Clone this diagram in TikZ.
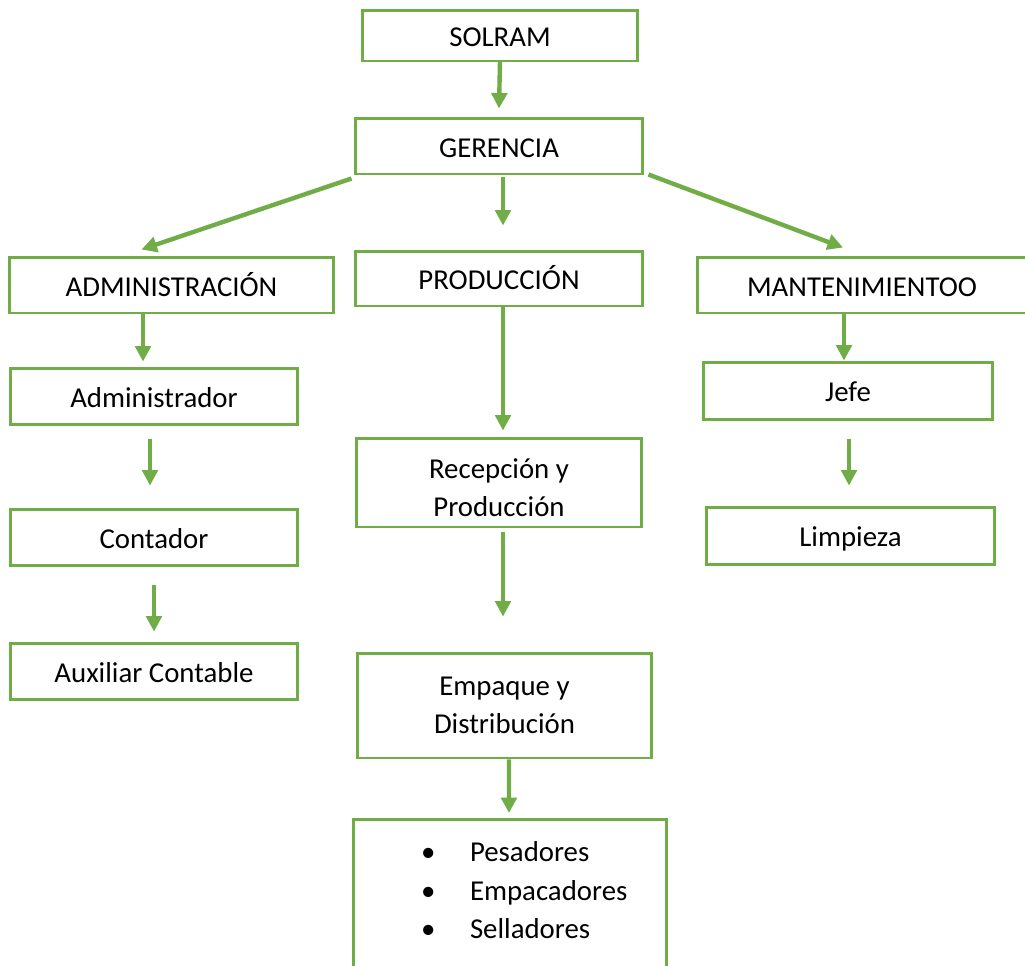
\documentclass[tikz,border=0pt]{standalone}
\usepackage{fontspec}
\setmainfont{Carlito}
\usetikzlibrary{arrows.meta,calc}
\definecolor{verde}{HTML}{70AD47}
\newcommand{\vineta}[1]{\makebox[2.34cm][l]{\hspace{1.36cm}\textbullet}#1}

\begin{document}
\begin{tikzpicture}[x=0.02cm,y=-0.02cm,
    caja/.style={draw=verde, line width=1.7pt, inner sep=2pt, align=center,
        font=\fontsize{16.4}{22}\selectfont},
    linea/.style={caja, text height=15.6pt, text depth=2.8pt},
    flecha/.style={draw=verde, line width=2.5pt, -{Triangle[length=8.8pt,width=8.8pt]}}]
    \useasboundingbox (0,0) rectangle (1025,965);

    % Direccion
    \node[linea, minimum width=5.52cm, minimum height=1.02cm] (solram) at (500,35.5) {SOLRAM};
    \node[linea, minimum width=5.76cm, minimum height=1.12cm] (gerencia) at (499,146) {GERENCIA};

    % Areas
    \node[linea, minimum width=6.5cm, minimum height=1.12cm] (admin) at (171.5,285) {ADMINISTRACIÓN};
    \node[linea, minimum width=5.76cm, minimum height=1.1cm] (prod) at (499,278.5) {PRODUCCIÓN};
    \node[linea, minimum width=6.6cm, minimum height=1.12cm] (mant) at (862,285) {MANTENIMIENTOO};

    % Administracion
    \node[linea, minimum width=5.76cm, minimum height=1.12cm] (administrador) at (154,396) {Administrador};
    \node[linea, minimum width=5.76cm, minimum height=1.12cm] (contador) at (154,537) {Contador};
    \node[linea, minimum width=5.76cm, minimum height=1.12cm] (auxiliar) at (154,671) {Auxiliar Contable};

    % Produccion
    \node[caja, minimum width=5.72cm, minimum height=1.78cm] (recepcion) at (499,482.5) {\rule{0pt}{17pt}Recepción y\\Producción};
    \node[caja, minimum width=5.9cm, minimum height=2.1cm] (empaque) at (504.5,705.5) {Empaque y\\Distribución};
    \node[caja, anchor=north, text width=6.28cm, inner xsep=0pt, inner ysep=0.44cm, align=left] (pesadores) at (510,818)
        {\vineta{Pesadores}\\\vineta{Empacadores}\\\vineta{Selladores}\rule[-2cm]{0pt}{0pt}};

    % Mantenimiento
    \node[linea, minimum width=5.8cm, minimum height=1.14cm] (jefe) at (848,390.5) {Jefe};
    \node[linea, minimum width=5.78cm, minimum height=1.14cm] (limpieza) at (850.5,535.5) {Limpieza};

    % Flechas
    \draw[flecha] ($(solram.south)+(0,-2)$) -- ($(gerencia.north)+(0,-8)$);
    \draw[flecha] ($(gerencia.south west)+(-2,3)$) -- ($(admin.north)+(-30,-6)$);
    \draw[flecha] ($(gerencia.south)+(4,2)$) -- ($(prod.north)+(4,-24)$);
    \draw[flecha] ($(gerencia.south east)+(4,-1)$) -- ($(mant.north)+(-19,-8)$);
    \draw[flecha] ($(admin.south)+(-28.5,0)$) -- ($(administrador.north)+(-11,-5)$);
    \draw[flecha] ($(administrador.south)+(-4,13)$) -- ($(contador.north)+(-4,-22)$);
    \draw[flecha] ($(contador.south)+(0,18)$) -- ($(auxiliar.north)+(0,-10)$);
    \draw[flecha] ($(prod.south)+(4,0)$) -- ($(recepcion.north)+(4,-6)$);
    \draw[flecha] ($(recepcion.south)+(4,4)$) -- ($(empaque.north)+(-1.5,-35)$);
    \draw[flecha] ($(empaque.south)+(4.5,0)$) -- ($(pesadores.north)+(-1,-5)$);
    \draw[flecha] ($(mant.south)+(-18,0)$) -- ($(jefe.north)+(-4,0)$);
    \draw[flecha] ($(jefe.south)+(1,18)$) -- ($(limpieza.north)+(-1.5,-20)$);
\end{tikzpicture}
\end{document}
